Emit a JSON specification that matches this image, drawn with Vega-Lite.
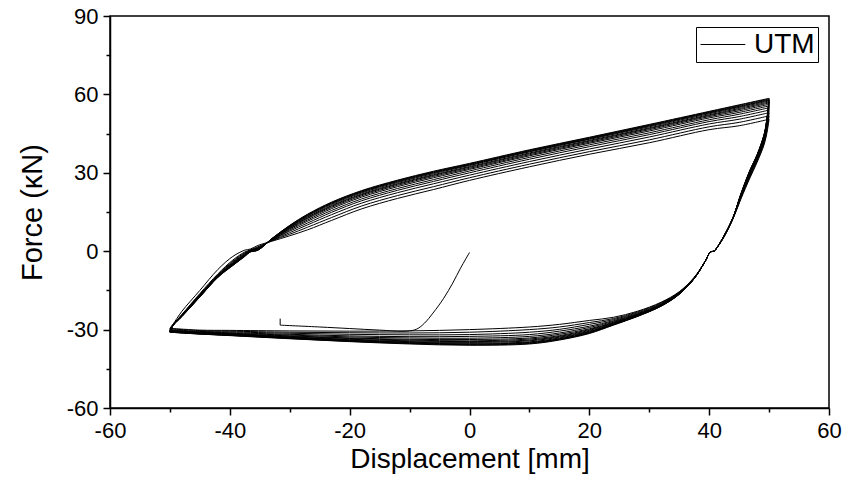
{
"$schema": "https://vega.github.io/schema/vega-lite/v6.json",
"width": 719, "height": 392,
"autosize": {"type": "none"},
"padding": {"left": 110, "top": 16, "right": 27, "bottom": 75},
"background": "white",
"config": {"view": {"stroke": "black", "strokeWidth": 1.5}, "font": "Liberation Sans"},
"data": {"values": [
{"c":0,"x":-50,"y":-29.5},{"c":0,"x":-49.5,"y":-28},{"c":0,"x":-48,"y":-23},{"c":0,"x":-45,"y":-15},{"c":0,"x":-42,"y":-7},{"c":0,"x":-39.5,"y":-2},{"c":0,"x":-37.5,"y":0.4},{"c":0,"x":-36.6,"y":0.8},{"c":0,"x":-35.3,"y":2.2},{"c":0,"x":-33,"y":3.8},{"c":0,"x":-30,"y":5.9},{"c":0,"x":-27,"y":8.2},{"c":0,"x":-23,"y":11.8},{"c":0,"x":-18,"y":16.2},{"c":0,"x":-12,"y":20.2},{"c":0,"x":-6,"y":23.6},{"c":0,"x":0,"y":27.1},{"c":0,"x":10,"y":32.3},{"c":0,"x":20,"y":37.1},{"c":0,"x":30,"y":41.5},{"c":0,"x":40,"y":46.5},{"c":0,"x":45,"y":48},{"c":0,"x":50,"y":50.5},
{"c":20,"x":50,"y":50.5},{"c":20,"x":49.7,"y":46},{"c":20,"x":49.2,"y":41},{"c":20,"x":48,"y":34},{"c":20,"x":46.8,"y":28},{"c":20,"x":45.3,"y":20},{"c":20,"x":44,"y":12.5},{"c":20,"x":42.5,"y":5.5},{"c":20,"x":41.2,"y":1},{"c":20,"x":40.8,"y":0},{"c":20,"x":40.2,"y":-0.3},{"c":20,"x":39.3,"y":-4},{"c":20,"x":37.5,"y":-10},{"c":20,"x":35,"y":-15.5},{"c":20,"x":32,"y":-19.5},{"c":20,"x":28,"y":-23},{"c":20,"x":24,"y":-25.3},{"c":20,"x":20,"y":-26.5},{"c":20,"x":15,"y":-28},{"c":20,"x":10,"y":-29},{"c":20,"x":0,"y":-30},{"c":20,"x":-10,"y":-30.5},{"c":20,"x":-20,"y":-30.6},{"c":20,"x":-30,"y":-30.5},{"c":20,"x":-40,"y":-30.3},{"c":20,"x":-45,"y":-30.2},{"c":20,"x":-50,"y":-29.5},
{"c":1,"x":-50,"y":-29.7},{"c":1,"x":-49.5,"y":-28.1},{"c":1,"x":-48,"y":-24.2},{"c":1,"x":-45,"y":-16.2},{"c":1,"x":-42,"y":-8.7},{"c":1,"x":-39.5,"y":-3.4},{"c":1,"x":-37.5,"y":-0.3},{"c":1,"x":-36.6,"y":0.5},{"c":1,"x":-35.3,"y":1.7},{"c":1,"x":-33,"y":4},{"c":1,"x":-30,"y":6.5},{"c":1,"x":-27,"y":9.2},{"c":1,"x":-23,"y":12.9},{"c":1,"x":-18,"y":17.3},{"c":1,"x":-12,"y":21.3},{"c":1,"x":-6,"y":24.7},{"c":1,"x":0,"y":28.1},{"c":1,"x":10,"y":33.3},{"c":1,"x":20,"y":38.1},{"c":1,"x":30,"y":42.6},{"c":1,"x":40,"y":47.6},{"c":1,"x":45,"y":49.3},{"c":1,"x":50,"y":51.8},
{"c":21,"x":50,"y":51.8},{"c":21,"x":49.7,"y":47},{"c":21,"x":49.2,"y":41.6},{"c":21,"x":48,"y":34.5},{"c":21,"x":46.8,"y":28.5},{"c":21,"x":45.3,"y":20.3},{"c":21,"x":44,"y":12.6},{"c":21,"x":42.5,"y":5.6},{"c":21,"x":41.2,"y":1},{"c":21,"x":40.8,"y":0},{"c":21,"x":40.2,"y":-0.3},{"c":21,"x":39.3,"y":-4},{"c":21,"x":37.5,"y":-10.1},{"c":21,"x":35,"y":-15.7},{"c":21,"x":32,"y":-19.7},{"c":21,"x":28,"y":-23.3},{"c":21,"x":24,"y":-25.8},{"c":21,"x":20,"y":-27.3},{"c":21,"x":15,"y":-29},{"c":21,"x":10,"y":-30},{"c":21,"x":0,"y":-31},{"c":21,"x":-10,"y":-31.3},{"c":21,"x":-20,"y":-31.2},{"c":21,"x":-30,"y":-31},{"c":21,"x":-40,"y":-30.6},{"c":21,"x":-45,"y":-30.4},{"c":21,"x":-50,"y":-29.7},
{"c":2,"x":-50,"y":-30},{"c":2,"x":-49.5,"y":-28.2},{"c":2,"x":-48,"y":-24.3},{"c":2,"x":-45,"y":-16.5},{"c":2,"x":-42,"y":-9},{"c":2,"x":-39.5,"y":-3.8},{"c":2,"x":-37.5,"y":-0.6},{"c":2,"x":-36.6,"y":0.4},{"c":2,"x":-35.3,"y":1.4},{"c":2,"x":-33,"y":4.1},{"c":2,"x":-30,"y":7.1},{"c":2,"x":-27,"y":10.1},{"c":2,"x":-23,"y":14},{"c":2,"x":-18,"y":18.4},{"c":2,"x":-12,"y":22.4},{"c":2,"x":-6,"y":25.8},{"c":2,"x":0,"y":29.1},{"c":2,"x":10,"y":34.3},{"c":2,"x":20,"y":39.1},{"c":2,"x":30,"y":43.7},{"c":2,"x":40,"y":48.7},{"c":2,"x":45,"y":50.5},{"c":2,"x":50,"y":53},
{"c":22,"x":50,"y":53},{"c":22,"x":49.7,"y":47.9},{"c":22,"x":49.2,"y":42.2},{"c":22,"x":48,"y":34.9},{"c":22,"x":46.8,"y":28.9},{"c":22,"x":45.3,"y":20.6},{"c":22,"x":44,"y":12.7},{"c":22,"x":42.5,"y":5.7},{"c":22,"x":41.2,"y":1},{"c":22,"x":40.8,"y":0},{"c":22,"x":40.2,"y":-0.3},{"c":22,"x":39.3,"y":-4},{"c":22,"x":37.5,"y":-10.2},{"c":22,"x":35,"y":-15.8},{"c":22,"x":32,"y":-20},{"c":22,"x":28,"y":-23.6},{"c":22,"x":24,"y":-26.2},{"c":22,"x":20,"y":-28},{"c":22,"x":15,"y":-29.9},{"c":22,"x":10,"y":-31},{"c":22,"x":0,"y":-31.9},{"c":22,"x":-10,"y":-32},{"c":22,"x":-20,"y":-31.8},{"c":22,"x":-30,"y":-31.4},{"c":22,"x":-40,"y":-30.9},{"c":22,"x":-45,"y":-30.7},{"c":22,"x":-50,"y":-30},
{"c":3,"x":-50,"y":-30.2},{"c":3,"x":-49.5,"y":-28.2},{"c":3,"x":-48,"y":-24.4},{"c":3,"x":-45,"y":-16.7},{"c":3,"x":-42,"y":-9.2},{"c":3,"x":-39.5,"y":-4.1},{"c":3,"x":-37.5,"y":-0.9},{"c":3,"x":-36.6,"y":0.3},{"c":3,"x":-35.3,"y":1.2},{"c":3,"x":-33,"y":4.2},{"c":3,"x":-30,"y":7.7},{"c":3,"x":-27,"y":10.8},{"c":3,"x":-23,"y":14.9},{"c":3,"x":-18,"y":19.3},{"c":3,"x":-12,"y":23.3},{"c":3,"x":-6,"y":26.7},{"c":3,"x":0,"y":30},{"c":3,"x":10,"y":35.2},{"c":3,"x":20,"y":40},{"c":3,"x":30,"y":44.6},{"c":3,"x":40,"y":49.6},{"c":3,"x":45,"y":51.5},{"c":3,"x":50,"y":54},
{"c":23,"x":50,"y":54},{"c":23,"x":49.7,"y":48.6},{"c":23,"x":49.2,"y":42.8},{"c":23,"x":48,"y":35.3},{"c":23,"x":46.8,"y":29.3},{"c":23,"x":45.3,"y":20.9},{"c":23,"x":44,"y":12.7},{"c":23,"x":42.5,"y":5.7},{"c":23,"x":41.2,"y":1},{"c":23,"x":40.8,"y":0},{"c":23,"x":40.2,"y":-0.3},{"c":23,"x":39.3,"y":-4},{"c":23,"x":37.5,"y":-10.2},{"c":23,"x":35,"y":-15.9},{"c":23,"x":32,"y":-20.2},{"c":23,"x":28,"y":-23.9},{"c":23,"x":24,"y":-26.6},{"c":23,"x":20,"y":-28.7},{"c":23,"x":15,"y":-30.6},{"c":23,"x":10,"y":-31.9},{"c":23,"x":0,"y":-32.6},{"c":23,"x":-10,"y":-32.7},{"c":23,"x":-20,"y":-32.4},{"c":23,"x":-30,"y":-31.8},{"c":23,"x":-40,"y":-31.2},{"c":23,"x":-45,"y":-30.9},{"c":23,"x":-50,"y":-30.2},
{"c":4,"x":-50,"y":-30.3},{"c":4,"x":-49.5,"y":-28.3},{"c":4,"x":-48,"y":-24.5},{"c":4,"x":-45,"y":-16.8},{"c":4,"x":-42,"y":-9.3},{"c":4,"x":-39.5,"y":-4.4},{"c":4,"x":-37.5,"y":-1.1},{"c":4,"x":-36.6,"y":0.2},{"c":4,"x":-35.3,"y":1.1},{"c":4,"x":-33,"y":4.3},{"c":4,"x":-30,"y":8.1},{"c":4,"x":-27,"y":11.5},{"c":4,"x":-23,"y":15.6},{"c":4,"x":-18,"y":20},{"c":4,"x":-12,"y":24},{"c":4,"x":-6,"y":27.4},{"c":4,"x":0,"y":30.7},{"c":4,"x":10,"y":35.9},{"c":4,"x":20,"y":40.7},{"c":4,"x":30,"y":45.3},{"c":4,"x":40,"y":50.3},{"c":4,"x":45,"y":52.4},{"c":4,"x":50,"y":54.9},
{"c":24,"x":50,"y":54.9},{"c":24,"x":49.7,"y":49.3},{"c":24,"x":49.2,"y":43.2},{"c":24,"x":48,"y":35.6},{"c":24,"x":46.8,"y":29.6},{"c":24,"x":45.3,"y":21.1},{"c":24,"x":44,"y":12.8},{"c":24,"x":42.5,"y":5.8},{"c":24,"x":41.2,"y":1},{"c":24,"x":40.8,"y":0},{"c":24,"x":40.2,"y":-0.3},{"c":24,"x":39.3,"y":-4},{"c":24,"x":37.5,"y":-10.3},{"c":24,"x":35,"y":-16},{"c":24,"x":32,"y":-20.3},{"c":24,"x":28,"y":-24.1},{"c":24,"x":24,"y":-26.9},{"c":24,"x":20,"y":-29.2},{"c":24,"x":15,"y":-31.3},{"c":24,"x":10,"y":-32.6},{"c":24,"x":0,"y":-33.3},{"c":24,"x":-10,"y":-33.2},{"c":24,"x":-20,"y":-32.8},{"c":24,"x":-30,"y":-32.1},{"c":24,"x":-40,"y":-31.4},{"c":24,"x":-45,"y":-31},{"c":24,"x":-50,"y":-30.3},
{"c":5,"x":-50,"y":-30.5},{"c":5,"x":-49.5,"y":-28.3},{"c":5,"x":-48,"y":-24.6},{"c":5,"x":-45,"y":-17},{"c":5,"x":-42,"y":-9.5},{"c":5,"x":-39.5,"y":-4.6},{"c":5,"x":-37.5,"y":-1.3},{"c":5,"x":-36.6,"y":0.1},{"c":5,"x":-35.3,"y":0.9},{"c":5,"x":-33,"y":4.4},{"c":5,"x":-30,"y":8.5},{"c":5,"x":-27,"y":12},{"c":5,"x":-23,"y":16.3},{"c":5,"x":-18,"y":20.7},{"c":5,"x":-12,"y":24.7},{"c":5,"x":-6,"y":28.1},{"c":5,"x":0,"y":31.3},{"c":5,"x":10,"y":36.5},{"c":5,"x":20,"y":41.3},{"c":5,"x":30,"y":46},{"c":5,"x":40,"y":51},{"c":5,"x":45,"y":53.1},{"c":5,"x":50,"y":55.6},
{"c":25,"x":50,"y":55.6},{"c":25,"x":49.7,"y":49.8},{"c":25,"x":49.2,"y":43.6},{"c":25,"x":48,"y":35.9},{"c":25,"x":46.8,"y":29.9},{"c":25,"x":45.3,"y":21.3},{"c":25,"x":44,"y":12.8},{"c":25,"x":42.5,"y":5.8},{"c":25,"x":41.2,"y":1},{"c":25,"x":40.8,"y":0},{"c":25,"x":40.2,"y":-0.3},{"c":25,"x":39.3,"y":-4},{"c":25,"x":37.5,"y":-10.3},{"c":25,"x":35,"y":-16.1},{"c":25,"x":32,"y":-20.5},{"c":25,"x":28,"y":-24.3},{"c":25,"x":24,"y":-27.2},{"c":25,"x":20,"y":-29.7},{"c":25,"x":15,"y":-31.8},{"c":25,"x":10,"y":-33.2},{"c":25,"x":0,"y":-33.8},{"c":25,"x":-10,"y":-33.7},{"c":25,"x":-20,"y":-33.2},{"c":25,"x":-30,"y":-32.4},{"c":25,"x":-40,"y":-31.6},{"c":25,"x":-45,"y":-31.2},{"c":25,"x":-50,"y":-30.5},
{"c":6,"x":-50,"y":-30.6},{"c":6,"x":-49.5,"y":-28.4},{"c":6,"x":-48,"y":-24.7},{"c":6,"x":-45,"y":-17.1},{"c":6,"x":-42,"y":-9.6},{"c":6,"x":-39.5,"y":-4.8},{"c":6,"x":-37.5,"y":-1.4},{"c":6,"x":-36.6,"y":0},{"c":6,"x":-35.3,"y":0.8},{"c":6,"x":-33,"y":4.5},{"c":6,"x":-30,"y":8.7},{"c":6,"x":-27,"y":12.5},{"c":6,"x":-23,"y":16.8},{"c":6,"x":-18,"y":21.2},{"c":6,"x":-12,"y":25.2},{"c":6,"x":-6,"y":28.6},{"c":6,"x":0,"y":31.7},{"c":6,"x":10,"y":36.9},{"c":6,"x":20,"y":41.7},{"c":6,"x":30,"y":46.5},{"c":6,"x":40,"y":51.5},{"c":6,"x":45,"y":53.7},{"c":6,"x":50,"y":56.2},
{"c":26,"x":50,"y":56.2},{"c":26,"x":49.7,"y":50.3},{"c":26,"x":49.2,"y":43.8},{"c":26,"x":48,"y":36.1},{"c":26,"x":46.8,"y":30.1},{"c":26,"x":45.3,"y":21.4},{"c":26,"x":44,"y":12.9},{"c":26,"x":42.5,"y":5.9},{"c":26,"x":41.2,"y":1},{"c":26,"x":40.8,"y":0},{"c":26,"x":40.2,"y":-0.3},{"c":26,"x":39.3,"y":-4},{"c":26,"x":37.5,"y":-10.4},{"c":26,"x":35,"y":-16.2},{"c":26,"x":32,"y":-20.6},{"c":26,"x":28,"y":-24.4},{"c":26,"x":24,"y":-27.4},{"c":26,"x":20,"y":-30},{"c":26,"x":15,"y":-32.3},{"c":26,"x":10,"y":-33.6},{"c":26,"x":0,"y":-34.3},{"c":26,"x":-10,"y":-34},{"c":26,"x":-20,"y":-33.4},{"c":26,"x":-30,"y":-32.6},{"c":26,"x":-40,"y":-31.7},{"c":26,"x":-45,"y":-31.3},{"c":26,"x":-50,"y":-30.6},
{"c":7,"x":-50,"y":-30.7},{"c":7,"x":-49.5,"y":-28.4},{"c":7,"x":-48,"y":-24.8},{"c":7,"x":-45,"y":-17.2},{"c":7,"x":-42,"y":-9.7},{"c":7,"x":-39.5,"y":-4.9},{"c":7,"x":-37.5,"y":-1.5},{"c":7,"x":-36.6,"y":-0.1},{"c":7,"x":-35.3,"y":0.7},{"c":7,"x":-33,"y":4.6},{"c":7,"x":-30,"y":9},{"c":7,"x":-27,"y":12.8},{"c":7,"x":-23,"y":17.2},{"c":7,"x":-18,"y":21.6},{"c":7,"x":-12,"y":25.6},{"c":7,"x":-6,"y":29},{"c":7,"x":0,"y":32.1},{"c":7,"x":10,"y":37.3},{"c":7,"x":20,"y":42.1},{"c":7,"x":30,"y":46.9},{"c":7,"x":40,"y":51.9},{"c":7,"x":45,"y":54.2},{"c":7,"x":50,"y":56.7},
{"c":27,"x":50,"y":56.7},{"c":27,"x":49.7,"y":50.6},{"c":27,"x":49.2,"y":44.1},{"c":27,"x":48,"y":36.3},{"c":27,"x":46.8,"y":30.3},{"c":27,"x":45.3,"y":21.5},{"c":27,"x":44,"y":12.9},{"c":27,"x":42.5,"y":5.9},{"c":27,"x":41.2,"y":1},{"c":27,"x":40.8,"y":0},{"c":27,"x":40.2,"y":-0.3},{"c":27,"x":39.3,"y":-4},{"c":27,"x":37.5,"y":-10.4},{"c":27,"x":35,"y":-16.3},{"c":27,"x":32,"y":-20.7},{"c":27,"x":28,"y":-24.5},{"c":27,"x":24,"y":-27.6},{"c":27,"x":20,"y":-30.3},{"c":27,"x":15,"y":-32.6},{"c":27,"x":10,"y":-34},{"c":27,"x":0,"y":-34.6},{"c":27,"x":-10,"y":-34.3},{"c":27,"x":-20,"y":-33.7},{"c":27,"x":-30,"y":-32.8},{"c":27,"x":-40,"y":-31.8},{"c":27,"x":-45,"y":-31.4},{"c":27,"x":-50,"y":-30.7},
{"c":8,"x":-50,"y":-30.7},{"c":8,"x":-49.5,"y":-28.4},{"c":8,"x":-48,"y":-24.8},{"c":8,"x":-45,"y":-17.2},{"c":8,"x":-42,"y":-9.7},{"c":8,"x":-39.5,"y":-5},{"c":8,"x":-37.5,"y":-1.6},{"c":8,"x":-36.6,"y":-0.1},{"c":8,"x":-35.3,"y":0.7},{"c":8,"x":-33,"y":4.6},{"c":8,"x":-30,"y":9.2},{"c":8,"x":-27,"y":13.1},{"c":8,"x":-23,"y":17.5},{"c":8,"x":-18,"y":21.9},{"c":8,"x":-12,"y":25.9},{"c":8,"x":-6,"y":29.3},{"c":8,"x":0,"y":32.4},{"c":8,"x":10,"y":37.6},{"c":8,"x":20,"y":42.4},{"c":8,"x":30,"y":47.2},{"c":8,"x":40,"y":52.2},{"c":8,"x":45,"y":54.6},{"c":8,"x":50,"y":57.1},
{"c":28,"x":50,"y":57.1},{"c":28,"x":49.7,"y":50.9},{"c":28,"x":49.2,"y":44.3},{"c":28,"x":48,"y":36.5},{"c":28,"x":46.8,"y":30.5},{"c":28,"x":45.3,"y":21.6},{"c":28,"x":44,"y":12.9},{"c":28,"x":42.5,"y":5.9},{"c":28,"x":41.2,"y":1},{"c":28,"x":40.8,"y":0},{"c":28,"x":40.2,"y":-0.3},{"c":28,"x":39.3,"y":-4},{"c":28,"x":37.5,"y":-10.4},{"c":28,"x":35,"y":-16.3},{"c":28,"x":32,"y":-20.7},{"c":28,"x":28,"y":-24.6},{"c":28,"x":24,"y":-27.8},{"c":28,"x":20,"y":-30.6},{"c":28,"x":15,"y":-32.9},{"c":28,"x":10,"y":-34.3},{"c":28,"x":0,"y":-34.9},{"c":28,"x":-10,"y":-34.6},{"c":28,"x":-20,"y":-33.9},{"c":28,"x":-30,"y":-33},{"c":28,"x":-40,"y":-31.9},{"c":28,"x":-45,"y":-31.4},{"c":28,"x":-50,"y":-30.7},
{"c":9,"x":-50,"y":-30.8},{"c":9,"x":-49.5,"y":-28.4},{"c":9,"x":-48,"y":-24.9},{"c":9,"x":-45,"y":-17.3},{"c":9,"x":-42,"y":-9.8},{"c":9,"x":-39.5,"y":-5.2},{"c":9,"x":-37.5,"y":-1.7},{"c":9,"x":-36.6,"y":-0.2},{"c":9,"x":-35.3,"y":0.6},{"c":9,"x":-33,"y":4.7},{"c":9,"x":-30,"y":9.4},{"c":9,"x":-27,"y":13.4},{"c":9,"x":-23,"y":17.9},{"c":9,"x":-18,"y":22.3},{"c":9,"x":-12,"y":26.3},{"c":9,"x":-6,"y":29.7},{"c":9,"x":0,"y":32.8},{"c":9,"x":10,"y":38},{"c":9,"x":20,"y":42.8},{"c":9,"x":30,"y":47.6},{"c":9,"x":40,"y":52.6},{"c":9,"x":45,"y":55},{"c":9,"x":50,"y":57.5},
{"c":29,"x":50,"y":57.5},{"c":29,"x":49.7,"y":51.2},{"c":29,"x":49.2,"y":44.5},{"c":29,"x":48,"y":36.6},{"c":29,"x":46.8,"y":30.6},{"c":29,"x":45.3,"y":21.7},{"c":29,"x":44,"y":12.9},{"c":29,"x":42.5,"y":5.9},{"c":29,"x":41.2,"y":1},{"c":29,"x":40.8,"y":0},{"c":29,"x":40.2,"y":-0.3},{"c":29,"x":39.3,"y":-4},{"c":29,"x":37.5,"y":-10.4},{"c":29,"x":35,"y":-16.4},{"c":29,"x":32,"y":-20.8},{"c":29,"x":28,"y":-24.7},{"c":29,"x":24,"y":-27.9},{"c":29,"x":20,"y":-30.8},{"c":29,"x":15,"y":-33.2},{"c":29,"x":10,"y":-34.7},{"c":29,"x":0,"y":-35.2},{"c":29,"x":-10,"y":-34.8},{"c":29,"x":-20,"y":-34.1},{"c":29,"x":-30,"y":-33.1},{"c":29,"x":-40,"y":-32},{"c":29,"x":-45,"y":-31.5},{"c":29,"x":-50,"y":-30.8},
{"c":10,"x":-50,"y":-30.9},{"c":10,"x":-49.5,"y":-28.5},{"c":10,"x":-48,"y":-24.9},{"c":10,"x":-45,"y":-17.4},{"c":10,"x":-42,"y":-9.9},{"c":10,"x":-39.5,"y":-5.3},{"c":10,"x":-37.5,"y":-1.8},{"c":10,"x":-36.6,"y":-0.2},{"c":10,"x":-35.3,"y":0.5},{"c":10,"x":-33,"y":4.7},{"c":10,"x":-30,"y":9.5},{"c":10,"x":-27,"y":13.7},{"c":10,"x":-23,"y":18.2},{"c":10,"x":-18,"y":22.6},{"c":10,"x":-12,"y":26.6},{"c":10,"x":-6,"y":30},{"c":10,"x":0,"y":33},{"c":10,"x":10,"y":38.2},{"c":10,"x":20,"y":43},{"c":10,"x":30,"y":47.9},{"c":10,"x":40,"y":52.9},{"c":10,"x":45,"y":55.3},{"c":10,"x":50,"y":57.8},
{"c":30,"x":50,"y":57.8},{"c":30,"x":49.7,"y":51.5},{"c":30,"x":49.2,"y":44.6},{"c":30,"x":48,"y":36.7},{"c":30,"x":46.8,"y":30.7},{"c":30,"x":45.3,"y":21.8},{"c":30,"x":44,"y":13},{"c":30,"x":42.5,"y":6},{"c":30,"x":41.2,"y":1},{"c":30,"x":40.8,"y":0},{"c":30,"x":40.2,"y":-0.3},{"c":30,"x":39.3,"y":-4},{"c":30,"x":37.5,"y":-10.5},{"c":30,"x":35,"y":-16.4},{"c":30,"x":32,"y":-20.9},{"c":30,"x":28,"y":-24.8},{"c":30,"x":24,"y":-28},{"c":30,"x":20,"y":-31},{"c":30,"x":15,"y":-33.5},{"c":30,"x":10,"y":-34.9},{"c":30,"x":0,"y":-35.5},{"c":30,"x":-10,"y":-35},{"c":30,"x":-20,"y":-34.2},{"c":30,"x":-30,"y":-33.2},{"c":30,"x":-40,"y":-32.1},{"c":30,"x":-45,"y":-31.6},{"c":30,"x":-50,"y":-30.9},
{"c":11,"x":-50,"y":-30.9},{"c":11,"x":-49.5,"y":-28.5},{"c":11,"x":-48,"y":-24.9},{"c":11,"x":-45,"y":-17.4},{"c":11,"x":-42,"y":-9.9},{"c":11,"x":-39.5,"y":-5.3},{"c":11,"x":-37.5,"y":-1.9},{"c":11,"x":-36.6,"y":-0.2},{"c":11,"x":-35.3,"y":0.5},{"c":11,"x":-33,"y":4.7},{"c":11,"x":-30,"y":9.7},{"c":11,"x":-27,"y":13.8},{"c":11,"x":-23,"y":18.4},{"c":11,"x":-18,"y":22.8},{"c":11,"x":-12,"y":26.8},{"c":11,"x":-6,"y":30.2},{"c":11,"x":0,"y":33.2},{"c":11,"x":10,"y":38.4},{"c":11,"x":20,"y":43.2},{"c":11,"x":30,"y":48.1},{"c":11,"x":40,"y":53.1},{"c":11,"x":45,"y":55.5},{"c":11,"x":50,"y":58},
{"c":31,"x":50,"y":58},{"c":31,"x":49.7,"y":51.6},{"c":31,"x":49.2,"y":44.8},{"c":31,"x":48,"y":36.8},{"c":31,"x":46.8,"y":30.8},{"c":31,"x":45.3,"y":21.9},{"c":31,"x":44,"y":13},{"c":31,"x":42.5,"y":6},{"c":31,"x":41.2,"y":1},{"c":31,"x":40.8,"y":0},{"c":31,"x":40.2,"y":-0.3},{"c":31,"x":39.3,"y":-4},{"c":31,"x":37.5,"y":-10.5},{"c":31,"x":35,"y":-16.4},{"c":31,"x":32,"y":-20.9},{"c":31,"x":28,"y":-24.9},{"c":31,"x":24,"y":-28.1},{"c":31,"x":20,"y":-31.2},{"c":31,"x":15,"y":-33.6},{"c":31,"x":10,"y":-35.1},{"c":31,"x":0,"y":-35.6},{"c":31,"x":-10,"y":-35.2},{"c":31,"x":-20,"y":-34.4},{"c":31,"x":-30,"y":-33.3},{"c":31,"x":-40,"y":-32.2},{"c":31,"x":-45,"y":-31.6},{"c":31,"x":-50,"y":-30.9},
{"c":12,"x":-50,"y":-31},{"c":12,"x":-49.5,"y":-28.5},{"c":12,"x":-48,"y":-25},{"c":12,"x":-45,"y":-17.5},{"c":12,"x":-42,"y":-10},{"c":12,"x":-39.5,"y":-5.4},{"c":12,"x":-37.5,"y":-1.9},{"c":12,"x":-36.6,"y":-0.3},{"c":12,"x":-35.3,"y":0.4},{"c":12,"x":-33,"y":4.8},{"c":12,"x":-30,"y":9.8},{"c":12,"x":-27,"y":14},{"c":12,"x":-23,"y":18.6},{"c":12,"x":-18,"y":23},{"c":12,"x":-12,"y":27},{"c":12,"x":-6,"y":30.4},{"c":12,"x":0,"y":33.4},{"c":12,"x":10,"y":38.6},{"c":12,"x":20,"y":43.4},{"c":12,"x":30,"y":48.3},{"c":12,"x":40,"y":53.3},{"c":12,"x":45,"y":55.8},{"c":12,"x":50,"y":58.3},
{"c":32,"x":50,"y":58.3},{"c":32,"x":49.7,"y":51.8},{"c":32,"x":49.2,"y":44.9},{"c":32,"x":48,"y":36.9},{"c":32,"x":46.8,"y":30.9},{"c":32,"x":45.3,"y":21.9},{"c":32,"x":44,"y":13},{"c":32,"x":42.5,"y":6},{"c":32,"x":41.2,"y":1},{"c":32,"x":40.8,"y":0},{"c":32,"x":40.2,"y":-0.3},{"c":32,"x":39.3,"y":-4},{"c":32,"x":37.5,"y":-10.5},{"c":32,"x":35,"y":-16.5},{"c":32,"x":32,"y":-21},{"c":32,"x":28,"y":-24.9},{"c":32,"x":24,"y":-28.2},{"c":32,"x":20,"y":-31.3},{"c":32,"x":15,"y":-33.8},{"c":32,"x":10,"y":-35.3},{"c":32,"x":0,"y":-35.8},{"c":32,"x":-10,"y":-35.3},{"c":32,"x":-20,"y":-34.5},{"c":32,"x":-30,"y":-33.4},{"c":32,"x":-40,"y":-32.2},{"c":32,"x":-45,"y":-31.7},{"c":32,"x":-50,"y":-31},
{"c":13,"x":-50,"y":-31},{"c":13,"x":-49.5,"y":-28.5},{"c":13,"x":-48,"y":-25},{"c":13,"x":-45,"y":-17.5},{"c":13,"x":-42,"y":-10},{"c":13,"x":-39.5,"y":-5.5},{"c":13,"x":-37.5,"y":-2},{"c":13,"x":-36.6,"y":-0.3},{"c":13,"x":-35.3,"y":0.4},{"c":13,"x":-33,"y":4.8},{"c":13,"x":-30,"y":9.9},{"c":13,"x":-27,"y":14.2},{"c":13,"x":-23,"y":18.8},{"c":13,"x":-18,"y":23.2},{"c":13,"x":-12,"y":27.2},{"c":13,"x":-6,"y":30.6},{"c":13,"x":0,"y":33.6},{"c":13,"x":10,"y":38.8},{"c":13,"x":20,"y":43.6},{"c":13,"x":30,"y":48.5},{"c":13,"x":40,"y":53.5},{"c":13,"x":45,"y":56},{"c":13,"x":50,"y":58.5},
{"c":33,"x":50,"y":58.5},{"c":33,"x":49.7,"y":52},{"c":33,"x":49.2,"y":45},{"c":33,"x":48,"y":37},{"c":33,"x":46.8,"y":31},{"c":33,"x":45.3,"y":22},{"c":33,"x":44,"y":13},{"c":33,"x":42.5,"y":6},{"c":33,"x":41.2,"y":1},{"c":33,"x":40.8,"y":0},{"c":33,"x":40.2,"y":-0.3},{"c":33,"x":39.3,"y":-4},{"c":33,"x":37.5,"y":-10.5},{"c":33,"x":35,"y":-16.5},{"c":33,"x":32,"y":-21},{"c":33,"x":28,"y":-25},{"c":33,"x":24,"y":-28.3},{"c":33,"x":20,"y":-31.5},{"c":33,"x":15,"y":-34},{"c":33,"x":10,"y":-35.5},{"c":33,"x":0,"y":-36},{"c":33,"x":-10,"y":-35.5},{"c":33,"x":-20,"y":-34.6},{"c":33,"x":-30,"y":-33.5},{"c":33,"x":-40,"y":-32.3},{"c":33,"x":-45,"y":-31.7},{"c":33,"x":-50,"y":-31},
{"c":50,"x":0,"y":-0.5},{"c":50,"x":-1.5,"y":-6.5},{"c":50,"x":-2.8,"y":-12.2},{"c":50,"x":-4.3,"y":-18},{"c":50,"x":-6.1,"y":-23.7},{"c":50,"x":-7.5,"y":-27.5},{"c":50,"x":-8.8,"y":-29.8},{"c":50,"x":-10.5,"y":-30.6},{"c":50,"x":-15,"y":-30.2},{"c":50,"x":-20,"y":-29.6},{"c":50,"x":-25,"y":-29},{"c":50,"x":-31.6,"y":-28.3},
{"c":51,"x":-31.6,"y":-28.3},{"c":51,"x":-31.6,"y":-25.8}
]},
"mark": {"type": "line", "strokeWidth": 1, "interpolate": "catmull-rom"},
"encoding": {
  "x": {"field": "x", "type": "quantitative", "scale": {"domain": [-60, 60], "nice": false},
    "axis": {"title": "Displacement [mm]", "values": [-60,-50,-40,-30,-20,-10,0,10,20,30,40,50,60],
      "labelExpr": "datum.value % 20 == 0 ? '' + datum.value : ''",
      "tickSize": {"condition": {"test": "datum.value % 20 != 0", "value": 4}, "value": 7},
      "labelFontSize": 22, "titleFontSize": 28, "titleFontWeight": "normal", "labelColor": "black", "titleColor": "black",
      "domainColor": "black", "domainWidth": 1.5, "tickColor": "black", "tickWidth": 1.5, "grid": false,
      "labelPadding": 5, "titlePadding": 4, "labelFlush": false, "labelOverlap": false}},
  "y": {"field": "y", "type": "quantitative", "scale": {"domain": [-60, 90], "nice": false},
    "axis": {"title": "Force (κN)", "values": [-60,-45,-30,-15,0,15,30,45,60,75,90],
      "labelExpr": "datum.value % 30 == 0 ? '' + datum.value : ''",
      "tickSize": {"condition": {"test": "datum.value % 30 != 0", "value": 4}, "value": 7},
      "labelFontSize": 22, "titleFontSize": 29, "titleFontWeight": "normal", "labelColor": "black", "titleColor": "black",
      "domainColor": "black", "domainWidth": 1.5, "tickColor": "black", "tickWidth": 1.5, "grid": false,
      "labelPadding": 5, "titlePadding": 19, "labelFlush": false, "labelOverlap": false}},
  "detail": {"field": "c", "type": "nominal"},
  "color": {"datum": "UTM", "scale": {"range": ["black"]},
    "legend": {"title": null, "orient": "top-right", "offset": 11, "strokeColor": "black", "fillColor": "white",
      "padding": 3, "labelFontSize": 28, "labelFont": "Liberation Sans", "labelColor": "black",
      "symbolType": "M-1.6,0L1.6,0", "symbolSize": 784, "symbolStrokeWidth": 1, "symbolStrokeColor": "#666",
      "symbolOffset": 9.4, "labelOffset": 16.6, "cornerRadius": 0}},
  "order": {"value": null}
}
}
